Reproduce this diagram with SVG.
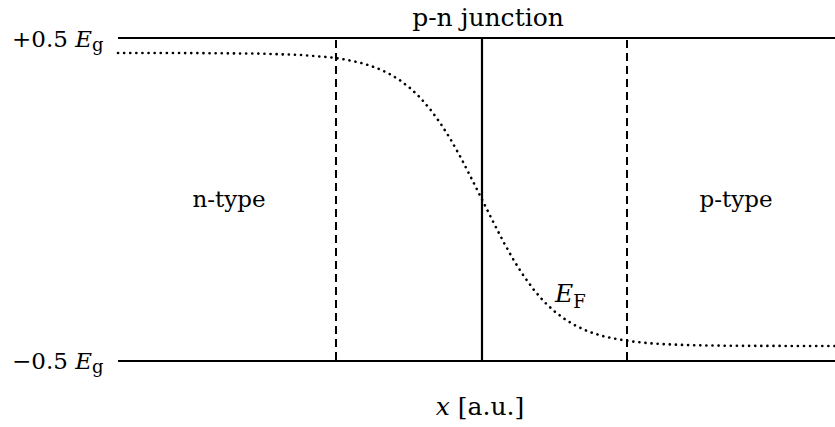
<svg xmlns="http://www.w3.org/2000/svg" width="835" height="427" viewBox="0 0 835 427">
<style>
text{font-family:"DejaVu Serif",serif;font-size:23px;fill:#000}
.big{font-size:25px}
.it{font-style:italic}
.sub{font-size:18px}
.solid{stroke:#000;stroke-width:2.2;fill:none}
.dash{stroke:#000;stroke-width:2;stroke-dasharray:8,5;fill:none}
.dot{stroke:#000;stroke-width:2.6;stroke-dasharray:0.1,6;stroke-linecap:round;fill:none}
</style>
<rect width="835" height="427" fill="#fff"/>
<g id="connectors">
<line class="solid" x1="118" y1="38" x2="835" y2="38"/>
<line class="solid" x1="118" y1="361" x2="835" y2="361"/>
<line class="solid" x1="482" y1="38" x2="482" y2="361"/>
<line class="dash" x1="336" y1="40" x2="336" y2="361"/>
<line class="dash" x1="627" y1="40" x2="627" y2="361"/>
<polyline class="dot" points="118,53 200,53.1 260,53.6 300,54.9 330,57.3 345,59.5 360,62.6 370,65.6 380,69.3 390,74.2 400,80.3 410,88 420,97.4 430,109 440,122.6 450,138.3 460,156.1 471,177.5 482,199.5 493,221.5 504,242.9 514,260.7 524,276.4 534,290 544,301.6 554,311 564,318.6 574,324.8 584,329.7 594,333.4 604,336.4 619,339.5 634,341.7 649,343.2 664,344.1 684,345 704,345.4 734,345.8 764,345.9 835,346"/>
</g>
<g id="label-top"><text x="12" y="47">+0.5 <tspan class="it">E</tspan><tspan class="sub" dy="4">g</tspan></text></g>
<g id="label-bottom"><text x="12" y="369">−0.5 <tspan class="it">E</tspan><tspan class="sub" dy="4">g</tspan></text></g>
<g id="junction"><text class="big" x="488" y="26" text-anchor="middle">p-n junction</text></g>
<g id="n-type"><text x="229" y="207" text-anchor="middle">n-type</text></g>
<g id="p-type"><text x="736" y="207" text-anchor="middle">p-type</text></g>
<g id="ef"><text class="big" x="555" y="302"><tspan class="it">E</tspan><tspan class="sub" dy="6">F</tspan></text></g>
<g id="xlabel"><text class="big" x="480" y="415" text-anchor="middle"><tspan class="it">x</tspan> [a.u.]</text></g>
</svg>
